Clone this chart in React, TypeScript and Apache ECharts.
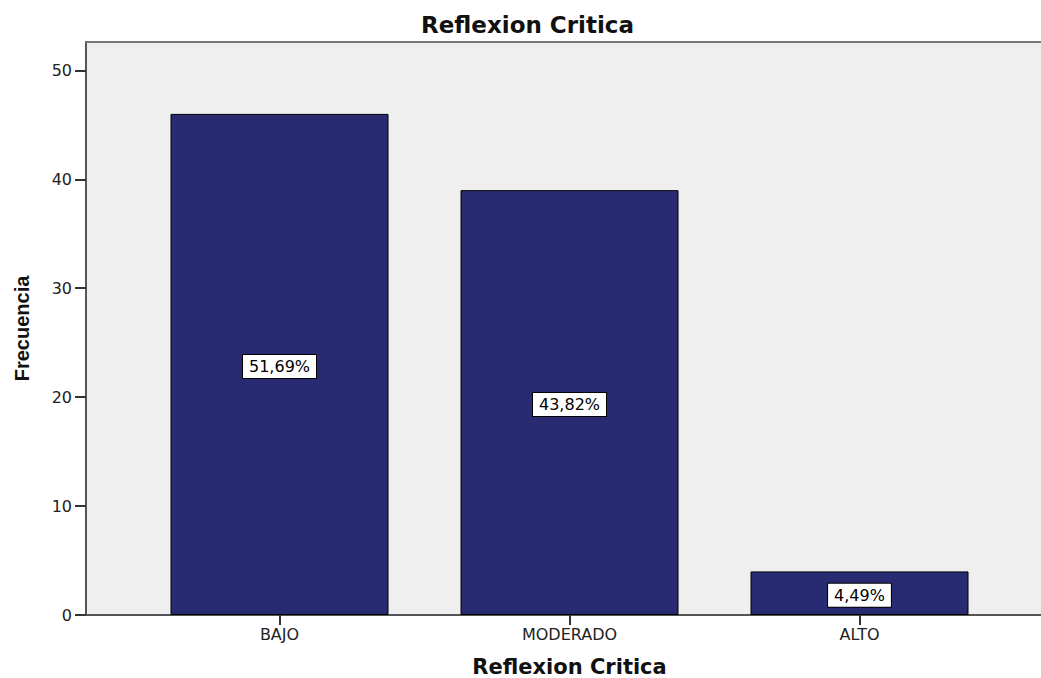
import React, { useEffect, useRef } from "react";
import * as echarts from "echarts";

const categories = ["BAJO", "MODERADO", "ALTO"];
const counts = [46, 39, 4];
const yTicksMax = 52.6;
const yInterval = 10;
const chartTitle = "Reflexion Critica";
const xName = "Reflexion Critica";
const yName = "Frecuencia";

const total = counts.reduce((a, b) => a + b, 0);
const percentLabels = counts.map((c) => ((c / total) * 100).toFixed(2).replace(".", ",") + "%");

const SANS = "'DejaVu Sans', Arial, sans-serif";

export default function App() {
  const ref = useRef<HTMLDivElement>(null);
  useEffect(() => {
    if (!ref.current) return;
    const chart = echarts.init(ref.current, undefined, { renderer: "svg" });
    const gridTop = 42;
    const gridBottom = 63;
    chart.setOption({
      animation: false,
      backgroundColor: "#ffffff",
      title: {
        text: chartTitle,
        left: 416,
        top: 8,
        textStyle: { fontFamily: SANS, fontWeight: "bold", fontSize: 23, color: "#111" },
      },
      grid: [
        {
          left: 86,
          right: 0,
          top: gridTop,
          bottom: gridBottom,
          show: true,
          backgroundColor: "#efefef",
          borderWidth: 0,
          containLabel: false,
          outerBoundsMode: "none",
        },
        {
          left: 134.5,
          right: 36.5,
          top: gridTop,
          bottom: gridBottom,
          containLabel: false,
          outerBoundsMode: "none",
        },
      ],
      xAxis: [
        {
          gridIndex: 0,
          type: "value",
          min: 0,
          max: 1,
          position: "bottom",
          axisLine: { show: true, lineStyle: { color: "#555", width: 2 } },
          axisTick: { show: false },
          axisLabel: { show: false },
          splitLine: { show: false },
        },
        {
          gridIndex: 1,
          type: "category",
          data: categories,
          axisLine: { show: false },
          axisTick: { show: true, alignWithLabel: true, length: 10, lineStyle: { color: "#333", width: 2 } },
          axisLabel: { fontFamily: SANS, fontSize: 16, color: "#222", margin: 11 },
          splitLine: { show: false },
          name: xName,
          nameLocation: "middle",
          nameGap: 41,
          nameTextStyle: { fontFamily: SANS, fontWeight: "bold", fontSize: 21, color: "#111" },
        },
        {
          gridIndex: 0,
          type: "value",
          min: 0,
          max: 1,
          position: "top",
          axisLine: { show: true, lineStyle: { color: "#777", width: 2 } },
          axisTick: { show: false },
          axisLabel: { show: false },
          splitLine: { show: false },
        },
      ],
      yAxis: [
        {
          gridIndex: 0,
          type: "value",
          min: 0,
          max: yTicksMax,
          interval: yInterval,
          axisLine: { show: true, lineStyle: { color: "#555", width: 2 } },
          axisTick: { show: true, length: 11, lineStyle: { color: "#333", width: 2 } },
          axisLabel: {
            fontFamily: SANS,
            fontSize: 16,
            color: "#222",
            margin: 14,
            showMaxLabel: false,
            formatter: (v: number) => (v % 10 === 0 ? String(v) : ""),
          },
          splitLine: { show: false },
          name: yName,
          nameLocation: "middle",
          nameGap: 54,
          nameRotate: 90,
          nameTextStyle: {
            fontFamily: "'Liberation Sans', Arial, sans-serif",
            fontWeight: "bold",
            fontSize: 20,
            color: "#111",
          },
        },
        {
          gridIndex: 1,
          type: "value",
          min: 0,
          max: yTicksMax,
          interval: yInterval,
          show: false,
          splitLine: { show: false },
        },
      ],
      series: [
        {
          type: "bar",
          xAxisIndex: 1,
          yAxisIndex: 1,
          data: counts,
          barWidth: 218,
          itemStyle: { color: "#282a72", borderColor: "#000", borderWidth: 1 },
          label: {
            show: true,
            position: "inside",
            offset: [0, 2],
            formatter: (p: any) => percentLabels[p.dataIndex],
            fontFamily: SANS,
            fontSize: 16,
            color: "#000",
            backgroundColor: "#fff",
            borderColor: "#000",
            borderWidth: 1,
            padding: [4, 6, 3, 6],
          },
        },
      ],
    });
    return () => chart.dispose();
  }, []);
  return (
    <div
      ref={ref}
      style={{ position: "absolute", left: 0, top: 0, width: 1041, height: 678 }}
    />
  );
}
